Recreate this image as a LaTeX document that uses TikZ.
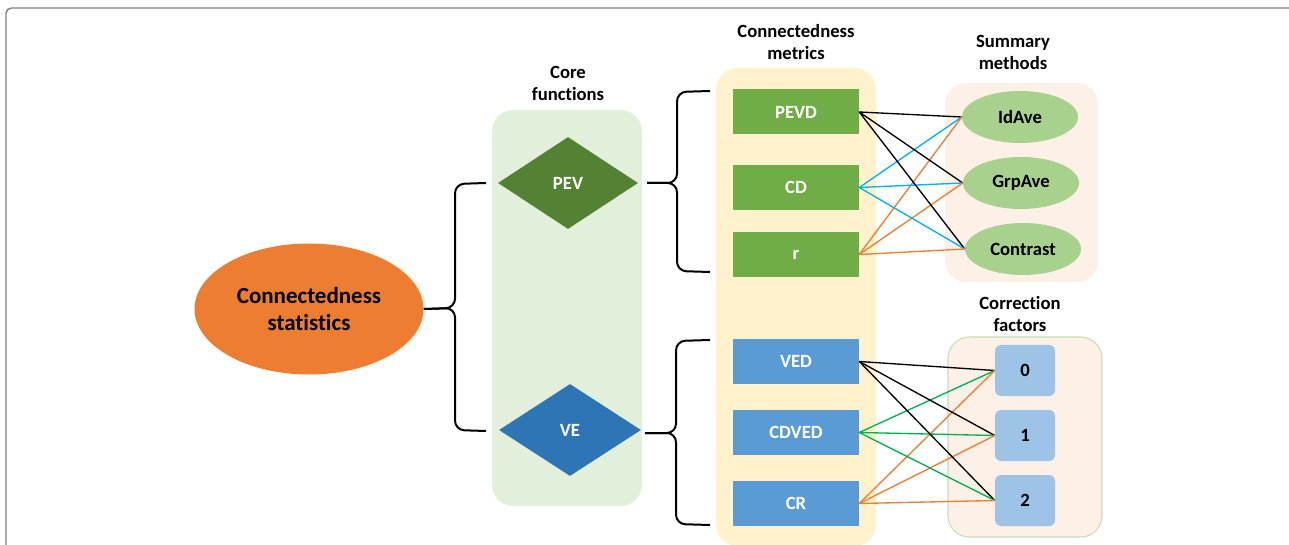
\documentclass[tikz,border=0pt]{standalone}
\usepackage{fontspec}
\setmainfont{Carlito}[Ligatures=NoCommon]
\usetikzlibrary{shapes.geometric}
\definecolor{corange}{HTML}{ED7D31}
\definecolor{corepanel}{HTML}{E2EFDA}
\definecolor{pevgreen}{HTML}{548235}
\definecolor{veblue}{HTML}{2E75B6}
\definecolor{metpanel}{HTML}{FFF2CC}
\definecolor{boxgreen}{HTML}{70AD47}
\definecolor{boxblue}{HTML}{5B9BD5}
\definecolor{sumpanel}{HTML}{FDF0E6}
\definecolor{ellgreen}{HTML}{A9D18E}
\definecolor{smallblue}{HTML}{9DC3E6}
\definecolor{panelborder}{HTML}{C5E0B4}
\definecolor{lineblue}{HTML}{00B0F0}
\definecolor{linegreen}{HTML}{00B050}
\definecolor{frame}{HTML}{7F7F7F}
\begin{document}
\begin{tikzpicture}[x=0.75pt,y=-0.75pt,
  txt/.style={font=\bfseries\fontsize{14}{16.5}\selectfont, align=center},
  bigtxt/.style={font=\bfseries\fontsize{17.25}{20.25}\selectfont, align=center},
  coredia/.style={diamond, inner sep=0pt, minimum width=105pt, minimum height=69pt, text=white, txt},
  metbox/.style={rectangle, inner sep=0pt, minimum width=94.5pt, minimum height=33.75pt, text=white, txt},
  sumell/.style={ellipse, fill=ellgreen, inner sep=0pt, minimum width=87pt, minimum height=39pt, txt},
  cfbox/.style={rectangle, rounded corners=4.5pt, fill=smallblue, inner sep=0pt, minimum width=45pt, minimum height=38.25pt, txt},
  panel/.style={rounded corners=16pt},
  bracepath/.style={draw=black, line width=1.5pt, rounded corners=7pt},
  link/.style={line width=1pt}
]
\useasboundingbox (0,0) rectangle (1289,545);
\begin{scope}
  \clip (0,0) rectangle (1289,545);
  \draw[frame, line width=1.1pt, rounded corners=4pt] (6,8) rectangle (1300,600);
\end{scope}

% panels
\fill[corepanel, panel] (492,110) rectangle (642,506);
\fill[metpanel, panel] (716,68) rectangle (876,546);
\fill[sumpanel, panel] (945,83) rectangle (1098,282);
\filldraw[fill=sumpanel, draw=panelborder, line width=0.8pt, panel] (948,337) rectangle (1102,537);

% headings
\node[txt] (hcore) at (568,83) {Core\\functions};
\node[txt] (hmet) at (796,42) {Connectedness\\metrics};
\node[txt] (hsum) at (1013,52) {Summary\\methods};
\node[txt] (hcf) at (1020,314) {Correction\\factors};

% main node
\node[ellipse, fill=corange, inner sep=0pt, minimum width=171.75pt, minimum height=98.25pt, bigtxt] (main) at (309,309) {Connectedness\\statistics};

% core functions
\node[coredia, fill=pevgreen] (pev) at (568,183) {PEV};
\node[coredia, fill=veblue, minimum width=106.5pt] (ve) at (570,430) {VE};

% metrics
\node[metbox, fill=boxgreen] (pevd) at (796,112) {PEVD};
\node[metbox, fill=boxgreen] (cd) at (796,187.5) {CD};
\node[metbox, fill=boxgreen] (r) at (796,254.5) {r};
\node[metbox, fill=boxblue] (ved) at (796,361.5) {VED};
\node[metbox, fill=boxblue] (cdved) at (796,432.5) {CDVED};
\node[metbox, fill=boxblue] (cr) at (796,503.5) {CR};

% summary methods
\node[sumell] (idave) at (1020,117) {IdAve};
\node[sumell] (grpave) at (1021,183) {GrpAve};
\node[sumell] (contrast) at (1023,249) {Contrast};

% correction factors
\node[cfbox] (f0) at (1025,370.5) {0};
\node[cfbox] (f1) at (1025,435.5) {1};
\node[cfbox] (f2) at (1025,500.5) {2};

% brace coordinates
\coordinate (lbtop) at (486,183);
\coordinate (lbbot) at (486,431);
\coordinate (ubtip) at (647,183);
\coordinate (ubtop) at (710,91);
\coordinate (ubbot) at (710,272);
\coordinate (dbtip) at (645,433);
\coordinate (dbtop) at (710,340);
\coordinate (dbbot) at (710,525);

% left brace
\draw[bracepath] (lbtop) -- (455,184) -- (455,308) -- (main.east);
\draw[bracepath] (main.east) -- (455,308) -- (455,430) -- (lbbot);
% upper right brace
\draw[bracepath] (ubtop) -- (677,92) -- (677,183) -- (ubtip);
\draw[bracepath] (ubtip) -- (677,183) -- (677,271) -- (ubbot);
% lower right brace
\draw[bracepath] (dbtop) -- (676,341) -- (676,433) -- (dbtip);
\draw[bracepath] (dbtip) -- (676,433) -- (676,524) -- (dbbot);

% links: summary methods
\foreach \t in {idave,grpave,contrast}{
  \draw[link, black] (pevd.east) -- (\t.west);
  \draw[link, lineblue] (cd.east) -- (\t.west);
  \draw[link, corange] (r.east) -- (\t.west);
}
% links: correction factors
\foreach \t in {f0,f1,f2}{
  \draw[link, black] (ved.east) -- (\t.west);
  \draw[link, linegreen] (cdved.east) -- (\t.west);
  \draw[link, corange] (cr.east) -- (\t.west);
}
\end{tikzpicture}
\end{document}
